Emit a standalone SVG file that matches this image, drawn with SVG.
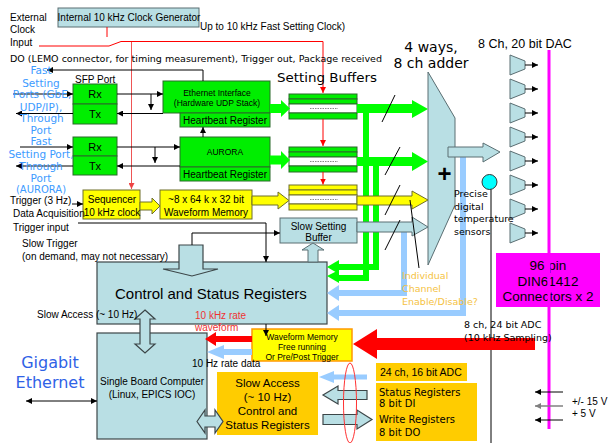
<svg xmlns="http://www.w3.org/2000/svg" width="608" height="443" viewBox="0 0 608 443" font-size="10">
<style>
.a{font-family:"Liberation Sans",Arial,sans-serif;fill:#000}
.c{font-family:"Comic Sans MS","DejaVu Sans",sans-serif;fill:#000}
.m{text-anchor:middle}
.lb{fill:#b9dfe4;stroke:#5a6e72;stroke-width:1}
.lbd{fill:#b9dfe4;stroke:#3c4648;stroke-width:1.2}
.gr{fill:#00ee00;stroke:#2a6a2a;stroke-width:1}
.ye{fill:#ffff00;stroke:#6e6e2a;stroke-width:1}
.or{fill:#ffcc00;stroke:none}
.ln{fill:none;stroke:#000;stroke-width:1}
.rd{fill:none;stroke:#ff0000;stroke-width:1}
.bt{fill:#3d9bff}
.wh{fill:#fff;stroke:#2a6a2a;stroke-width:1}
.dash{stroke:#8a8a8a;stroke-width:1;stroke-dasharray:1.5 1}
.lba{fill:none;stroke:#99ccff;stroke-width:6}
.gra{fill:none;stroke:#00ff00;stroke-width:6}
</style>
<defs>
<marker id="ah" viewBox="0 0 10 10" refX="10" refY="5" markerWidth="7" markerHeight="6" markerUnits="userSpaceOnUse" orient="auto-start-reverse"><path d="M0,0 L10,5 L0,10 z" fill="#000"/></marker>
<marker id="ag" viewBox="0 0 10 10" refX="10" refY="5" markerWidth="7" markerHeight="6" markerUnits="userSpaceOnUse" orient="auto"><path d="M0,0 L10,5 L0,10 z" fill="#808080"/></marker>
<marker id="ar" viewBox="0 0 10 10" refX="10" refY="5" markerWidth="6" markerHeight="6" markerUnits="userSpaceOnUse" orient="auto"><path d="M0,0 L10,5 L0,10 z" fill="#ff0000"/></marker>
<marker id="ap" viewBox="0 0 10 10" refX="10" refY="5" markerWidth="6" markerHeight="6" markerUnits="userSpaceOnUse" orient="auto"><path d="M0,0 L10,5 L0,10 z" fill="#ee4444"/></marker>
</defs>
<rect x="0" y="0" width="608" height="443" fill="#fff"/>

<g id="clock-gen"><rect class="lb" x="58" y="8" width="141" height="19"/><text class="a m" x="129" y="21">Internal 10 kHz Clock Generator</text></g>

<g id="sfp-eth">
<rect class="gr" x="73" y="84" width="44" height="20"/><text class="a m" x="95" y="98" font-size="11">Rx</text>
<rect class="gr" x="73" y="104" width="44" height="20"/><text class="a m" x="95" y="118" font-size="11">Tx</text>
</g>
<g id="eth-if">
<rect class="gr" x="163" y="81" width="107" height="32"/>
<text class="a m" x="217" y="95.5" font-size="8.5">Ethernet Interface</text>
<text class="a m" x="217" y="106" font-size="8.5">(Hardware UDP Stack)</text>
<rect class="gr" x="180" y="113" width="90" height="14"/><text class="a m" x="225" y="124">Heartbeat Register</text>
</g>
<g id="sfp-aurora">
<rect class="gr" x="73" y="137" width="44" height="19"/><text class="a m" x="95" y="150.5" font-size="11">Rx</text>
<rect class="gr" x="73" y="156" width="44" height="19"/><text class="a m" x="95" y="169.5" font-size="11">Tx</text>
</g>
<g id="aurora">
<rect class="gr" x="180" y="137" width="90" height="30"/><text class="a m" x="225" y="155" font-size="8.5">AURORA</text>
<rect class="gr" x="180" y="167" width="90" height="14"/><text class="a m" x="225" y="178">Heartbeat Register</text>
</g>

<g id="buffer-1">
<rect class="gr" x="289" y="94" width="68" height="5"/><rect class="gr" x="289" y="99" width="68" height="5"/>
<rect class="wh" x="289" y="104" width="68" height="9"/><rect class="gr" x="289" y="113" width="68" height="6"/>
<line class="dash" x1="310" y1="108.5" x2="338" y2="108.5"/>
</g>
<g id="buffer-2">
<rect class="gr" x="289" y="147" width="68" height="5"/><rect class="gr" x="289" y="152" width="68" height="5"/>
<rect class="wh" x="289" y="157" width="68" height="9"/><rect class="gr" x="289" y="166" width="68" height="6"/>
<line class="dash" x1="310" y1="161.5" x2="338" y2="161.5"/>
</g>
<g id="buffer-3">
<rect class="ye" x="289" y="185" width="68" height="5"/><rect class="ye" x="289" y="190" width="68" height="5"/>
<rect x="289" y="195" width="68" height="9" fill="#fff" stroke="#6e6e2a"/><rect class="ye" x="289" y="204" width="68" height="6"/>
<line class="dash" x1="310" y1="199.5" x2="338" y2="199.5"/>
</g>

<g id="sequencer"><rect class="ye" x="83" y="190" width="57" height="29"/>
<text class="a m" x="112" y="203">Sequencer</text><text class="a m" x="112" y="216">10 kHz clock</text></g>
<g id="waveform-memory"><rect class="ye" x="160" y="190" width="92" height="29"/>
<text class="a m" x="206" y="203">~8 x 64 k x 32 bit</text><text class="a m" x="206" y="216">Waveform Memory</text></g>
<g id="slow-setting-buffer"><rect class="lb" x="280" y="218" width="77" height="25"/>
<text class="a m" x="318.5" y="230">Slow Setting</text><text class="a m" x="318.5" y="241">Buffer</text></g>

<g id="adder"><polygon class="lb" points="428,72 455,118 455,205 428,265"/>
<text class="a m" x="444.5" y="182" font-size="24" font-weight="bold">+</text></g>

<g id="dac">
<polygon class="lb" points="510,55 525,61 525,69 510,75"/>
<polygon class="lb" points="510,79 525,85 525,93 510,99"/>
<polygon class="lb" points="510,103 525,109 525,117 510,123"/>
<polygon class="lb" points="510,127 525,133 525,141 510,147"/>
<polygon class="lb" points="510,151 525,157 525,165 510,171"/>
<polygon class="lb" points="510,175 525,181 525,189 510,195"/>
<polygon class="lb" points="510,199 525,205 525,213 510,219"/>
<polygon class="lb" points="510,223 525,229 525,237 510,243"/>
</g>

<g id="connector-box"><rect x="496" y="253" width="104" height="54" fill="#ff00ff"/>
<text class="a m" x="548" y="270" font-size="13.5">96 pin</text>
<text class="a m" x="548" y="286" font-size="13.5">DIN61412</text>
<text class="a m" x="548" y="301" font-size="13.5">Connectors x 2</text></g>

<g id="temp-sensor"><circle cx="489.5" cy="182" r="7.5" fill="#00ffff" stroke="#333"/></g>

<g id="control-registers"><rect class="lbd" x="97" y="262" width="230" height="62"/>
<text class="a" x="115" y="298.5" font-size="15">Control and Status Registers</text></g>

<g id="slow-trigger-arrow"><polygon class="lbd" points="179,245 203,245 203,269 218,269 192,276 163,269 179,269"/></g>

<g id="sbc"><rect class="lbd" x="97" y="333" width="110" height="106"/>
<text class="a m" x="152" y="385">Single Board Computer</text>
<text class="a m" x="152" y="398">(Linux, EPICS IOC)</text></g>

<g id="waveform-memory-2"><rect x="252" y="329" width="100" height="32" fill="#ffff00" stroke="#ff9900" stroke-width="1.5"/>
<text class="a m" x="302" y="340" font-size="8.5">Waveform Memory</text>
<text class="a m" x="302" y="350" font-size="8.5">Free running</text>
<text class="a m" x="302" y="359.5" font-size="8.5">Or Pre/Post Trigger</text></g>

<g id="slow-access"><rect class="or" x="217" y="372" width="101" height="63"/>
<text class="a m" x="267.5" y="387" font-size="11.5">Slow Access</text>
<text class="a m" x="267.5" y="401" font-size="11.5">(~ 10 Hz)</text>
<text class="a m" x="267.5" y="415" font-size="11.5">Control and</text>
<text class="a m" x="267.5" y="429" font-size="11.5">Status Registers</text></g>

<g id="adc-16"><rect class="or" x="376" y="363" width="91" height="18"/>
<text class="a" x="380" y="376" font-size="10.5">24 ch, 16 bit ADC</text></g>
<g id="dio"><rect class="or" x="376" y="383" width="101" height="58"/>
<text class="c" x="379" y="395.5">Status Registers</text>
<text class="c" x="379" y="407">8 bit  DI</text>
<text class="c" x="379" y="422.5">Write Registers</text>
<text class="c" x="379" y="435.5">8 bit DO</text></g>

<g id="connectors">
<path class="rd" d="M107,27 V37"/>
<path class="rd" d="M39,46 H109 L121,41.5 H323"/>
<path d="M131.5,42 V189" fill="none" stroke="#ee5555" stroke-width="1" marker-end="url(#ap)"/>
<path class="rd" d="M323,41.5 V93" marker-end="url(#ar)"/>
<path class="rd" d="M323,119 V146" marker-end="url(#ar)"/>
<path class="rd" d="M323,172 V184.5" marker-end="url(#ar)"/>
<path class="ln" d="M203,81 V70 H47" marker-end="url(#ah)"/>
<path class="ln" d="M13,94 H73" marker-end="url(#ah)"/>
<path class="ln" d="M117,94 H163" marker-end="url(#ah)"/>
<path class="ln" d="M151,94 V110" marker-end="url(#ah)"/>
<path class="ln" d="M163,113.5 H117" marker-end="url(#ah)"/>
<path class="ln" d="M73,113.5 H16" marker-end="url(#ah)"/>
<path class="ln" d="M20,147 H73" marker-end="url(#ah)"/>
<path class="ln" d="M117,147 H180" marker-end="url(#ah)"/>
<path class="ln" d="M155,147 V163" marker-end="url(#ah)"/>
<path class="ln" d="M180,166 H117" marker-end="url(#ah)"/>
<path class="ln" d="M73,166 H16" marker-end="url(#ah)"/>
<path class="ln" d="M203,137 V127" marker-end="url(#ah)"/>
<polygon points="270,104 281,104 281,100 290,108.5 281,117 281,113 270,113" fill="#00ff00"/>
<polygon points="270,155.5 281,155.5 281,151 290,160 281,169 281,164.5 270,164.5" fill="#00ff00"/>
<polygon class="ye" points="140,202 152,202 152,198 160,206 152,214 152,210 140,210"/>
<polygon class="ye" points="252,196 278,196 278,192 289,200.5 278,209 278,205 252,205"/>
<path class="ln" d="M72,204 H83" marker-end="url(#ah)"/>
<path class="ln" d="M78,223 H266 V262" marker-end="url(#ah)"/>
<path class="ln" d="M192,245 V233 H280" marker-end="url(#ah)"/>
<polygon class="lb" points="313,243 324,250 318,250 318,262 308,262 308,250 302,250"/>
<path class="lba" d="M463,157 V313 H338"/>
<polygon points="339,305 327,313 339,321" fill="#99ccff"/>
<path class="lba" d="M404,231 V293 H338"/>
<polygon points="339,285 327,293 339,301" fill="#99ccff"/>
<path class="gra" d="M366,113 V278 H336"/>
<polygon points="339,270 327,276 339,283" fill="#00ff00"/>
<path class="gra" d="M376,166 V267 H336"/>
<polygon points="339,260 327,267 339,274" fill="#00ff00"/>
<polygon points="357,104 412,104 412,100 428,109 412,118 412,113 357,113" fill="#00ff00"/>
<polygon points="357,157 412,157 412,152 428,161.5 412,171 412,166 357,166" fill="#00ff00"/>
<polygon class="ye" points="357,196 412,196 412,191 428,200 412,209 412,205 357,205"/>
<polygon class="lb" points="357,222 412,222 412,217 428,227 412,236 412,232 357,232"/>
<path class="ln" d="M395,95 L382,122 M400,147 L385,175 M400,185 L385,215 M400,220 L385,250"/>
<path class="ln" d="M410,200 L419,268"/>
<polygon class="lb" points="448,147 483,147 483,143 500,152 483,162 483,157 448,157"/>
<path class="ln" d="M525,65 H538" marker-end="url(#ah)"/>
<path class="ln" d="M525,89 H538" marker-end="url(#ah)"/>
<path class="ln" d="M525,113 H538" marker-end="url(#ah)"/>
<path class="ln" d="M525,137 H538" marker-end="url(#ah)"/>
<path class="ln" d="M525,161 H538" marker-end="url(#ah)"/>
<path class="ln" d="M525,185 H538" marker-end="url(#ah)"/>
<path class="ln" d="M525,209 H538" marker-end="url(#ah)"/>
<path class="ln" d="M525,233 H538" marker-end="url(#ah)"/>
<line x1="549" y1="50" x2="549" y2="429" stroke="#ff00ff" stroke-width="3"/>
<line x1="491" y1="189.5" x2="491" y2="443" stroke="#000" stroke-width="1"/>
<polygon points="535,338 377,338 377,329 353,344 377,359 377,350 535,350" fill="#ff0000"/>
<path class="ln" d="M266,324 V336" marker-end="url(#ah)"/>
<polygon points="252,336 216,336 216,332 205,339 216,346 216,342 252,342" fill="#ff0000"/>
<polygon points="252,349 224,349 224,345 207,352 224,359 224,355 252,355" fill="#99ccff"/>
<polygon class="lbd" points="145,310 155,319 150,319 150,344 155,344 145,353 135,344 140,344 140,319 135,319"/>
<path class="ln" d="M26,401 H97" marker-start="url(#ah)" marker-end="url(#ah)"/>
<polygon class="lbd" points="197,421.5 205,410 205,416 215,416 215,410 223,421.5 215,433 215,427 205,427 205,433"/>
<polygon points="367,374.5 334,374.5 334,371 319,377 334,383 334,379.5 367,379.5" fill="#99ccff"/>
<polygon class="lbd" points="367,390.5 338,390.5 338,386 323,395 338,404 338,399.5 367,399.5"/>
<polygon class="lbd" points="323,414.5 357,414.5 357,410 372,419.5 357,429 357,424.5 323,424.5"/>
<ellipse cx="350" cy="403" rx="6.5" ry="40" fill="none" stroke="#ff3333" stroke-width="1"/>
<path class="ln" d="M563,392 H535" marker-end="url(#ah)"/>
<path d="M563,406 H535" fill="none" stroke="#808080" stroke-width="1.5" marker-end="url(#ag)"/>
<path class="ln" d="M563,420 H535" marker-end="url(#ah)"/>
</g>

<g id="labels">
<text class="a" x="10" y="21">External</text>
<text class="a" x="10" y="33">Clock</text>
<text class="a" x="10" y="46">Input</text>
<text class="a" x="200" y="30">Up to 10 kHz Fast Setting Clock)</text>
<text class="c" x="10" y="62" font-size="9.5" textLength="372" lengthAdjust="spacingAndGlyphs">DO (LEMO connector, for timing measurement), Trigger out, Package received</text>
<text class="a" x="75" y="83">SFP Port</text>
<g class="c bt m" font-size="10.5">
<text x="41" y="74">Fast</text>
<text x="41" y="87">Setting</text>
<text x="42" y="98">Ports (GbE,</text>
<text x="41" y="111">UDP/IP),</text>
<text x="42" y="122">Through</text>
<text x="41" y="134">Port</text>
<text x="41" y="145">Fast</text>
<text x="41" y="158">Setting Port,</text>
<text x="41" y="170">Through</text>
<text x="41" y="182">Port</text>
<text x="41" y="193" font-size="10">(AURORA)</text>
</g>
<text class="a" x="10" y="203.5">Trigger (3 Hz)</text>
<text class="a" x="13" y="217">Data Acquisition</text>
<text class="a" x="13" y="231">Trigger input</text>
<text class="a" x="22" y="247">Slow Trigger</text>
<text class="a" x="22" y="260">(on demand, may not necessary)</text>
<text class="a" x="37" y="318">Slow Access (~ 10 Hz)</text>
<text class="a" x="195" y="319" style="fill:#ee3333">10 kHz rate</text>
<text class="a" x="195" y="331" style="fill:#ee3333">waveform</text>
<text class="a" x="192" y="367">10 Hz rate data</text>
<text class="c m" x="50" y="368" font-size="16" style="fill:#2f62e6">Gigabit</text>
<text class="c m" x="50" y="388" font-size="16" style="fill:#2f62e6">Ethernet</text>
<text class="c" x="277" y="82" font-size="13" textLength="100" lengthAdjust="spacingAndGlyphs">Setting Buffers</text>
<text class="c m" x="431" y="52" font-size="14">4 ways,</text>
<text class="c m" x="431" y="68" font-size="14">8 ch adder</text>
<text class="a" x="478" y="48" font-size="12.5">8  Ch, 20 bit DAC</text>
<text class="c" x="454" y="197" font-size="9.5">Precise</text>
<text class="c" x="454" y="210" font-size="9.5">digital</text>
<text class="c" x="454" y="222" font-size="9.5">temperature</text>
<text class="c" x="454" y="235" font-size="9.5">sensors</text>
<text class="c" x="402" y="279" font-size="9.5" style="fill:#f5c242">Individual</text>
<text class="c" x="402" y="292" font-size="9.5" style="fill:#f5c242">Channel</text>
<text class="c" x="402" y="305" font-size="9.5" style="fill:#f5c242">Enable/Disable?</text>
<text class="c" x="464" y="328" font-size="9.5">8 ch, 24 bit ADC</text>
<text class="c" x="464" y="341" font-size="9.5">(10 kHz Sampling)</text>
<text class="a" x="572" y="405">+/- 15 V</text>
<text class="a" x="572" y="417">+ 5 V</text>
</g>
</svg>
